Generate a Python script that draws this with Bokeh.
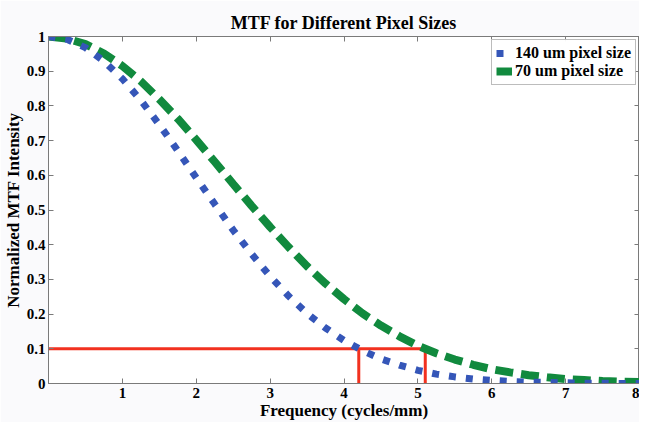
from bokeh.plotting import figure
from bokeh.models import LinearAxis, FixedTicker, Range1d, Legend, LegendItem, ColumnDataSource
from bokeh.embed import file_html
from bokeh.resources import INLINE

# Data
freq = [0, 0.25, 0.5, 0.75, 1, 1.25, 1.5, 1.75, 2, 2.25, 2.5, 2.75, 3, 3.25, 3.5, 3.75,
        4, 4.25, 4.5, 4.75, 5, 5.25, 5.5, 5.75, 6, 6.25, 6.5, 6.75, 7, 7.25, 7.5, 7.75, 8]
mtf_140 = [1.000, 0.992, 0.968, 0.929, 0.878, 0.816, 0.746, 0.671, 0.593, 0.517, 0.442, 0.373,
           0.309, 0.252, 0.202, 0.160, 0.124, 0.095, 0.071, 0.053, 0.038, 0.027, 0.019, 0.013,
           0.009, 0.006, 0.004, 0.003, 0.002, 0.001, 0.001, 0.000, 0.000]
mtf_70 = [1.000, 0.994, 0.978, 0.951, 0.915, 0.871, 0.819, 0.763, 0.702, 0.639, 0.575, 0.512,
          0.451, 0.393, 0.338, 0.288, 0.243, 0.202, 0.167, 0.136, 0.109, 0.087, 0.069, 0.054,
          0.041, 0.032, 0.024, 0.018, 0.013, 0.010, 0.007, 0.005, 0.004]
threshold = 0.1
cutoff_140 = 4.2
cutoff_70 = 5.1
x_ticks = [1, 2, 3, 4, 5, 6, 7, 8]
y_ticks = [0, 0.1, 0.2, 0.3, 0.4, 0.5, 0.6, 0.7, 0.8, 0.9, 1]
y_tick_labels = {0: "0", 0.1: "0.1", 0.2: "0.2", 0.3: "0.3", 0.4: "0.4", 0.5: "0.5",
                 0.6: "0.6", 0.7: "0.7", 0.8: "0.8", 0.9: "0.9", 1: "1"}
series_labels = ["140 um pixel size", "70 um pixel size"]

FONT = "Liberation Serif"
BLUE = "#3556b8"
GREEN = "#118a3e"
RED = "#f2311f"
AXC = "#7a7a7a"

p = figure(width=639, height=422, x_range=Range1d(0, 8), y_range=Range1d(0, 1),
           output_backend="svg", toolbar_location=None,
           x_axis_location=None, y_axis_location=None,
           min_border_left=39, min_border_right=0, min_border_top=36, min_border_bottom=0)
p.background_fill_color = "white"
p.border_fill_color = "#fafafc"
p.outline_line_color = AXC
p.xgrid.visible = False
p.ygrid.visible = False

p.title.text = "MTF for Different Pixel Sizes"
p.title.align = "center"
p.title.text_font = FONT
p.title.text_font_size = "18px"
p.title.text_font_style = "bold"
p.title.text_color = "black"
p.title.standoff = 7

def style_axis(ax, labels=True):
    ax.axis_line_color = AXC
    ax.major_tick_line_color = AXC
    ax.major_tick_in = 5
    ax.major_tick_out = 0
    ax.minor_tick_line_color = None
    ax.major_label_text_font = FONT
    ax.major_label_text_font_style = "bold"
    ax.major_label_text_font_size = "15px"
    ax.major_label_text_color = "black"
    ax.axis_label_text_font = FONT
    ax.axis_label_text_font_style = "bold"
    ax.axis_label_text_font_size = "17px"
    ax.axis_label_text_color = "black"
    ax.major_label_standoff = 4
    ax.axis_label_standoff = 0
    if not labels:
        ax.major_label_standoff = 0

xb = LinearAxis(ticker=FixedTicker(ticks=x_ticks), axis_label="Frequency (cycles/mm)")
style_axis(xb)
xt = LinearAxis(ticker=FixedTicker(ticks=x_ticks))
style_axis(xt, labels=False)
xt.major_label_overrides = {t: "" for t in x_ticks}
yl = LinearAxis(ticker=FixedTicker(ticks=y_ticks), axis_label="Normalized MTF Intensity")
yl.major_label_overrides = y_tick_labels
style_axis(yl)
yl.axis_label_standoff = 1
yl.major_label_standoff = 3
yr = LinearAxis(ticker=FixedTicker(ticks=y_ticks))
style_axis(yr, labels=False)
yr.major_label_overrides = {t: "" for t in y_ticks}
p.add_layout(xb, "below")
p.add_layout(xt, "above")
p.add_layout(yl, "left")
p.add_layout(yr, "right")

src = ColumnDataSource(dict(f=freq, a=mtf_140, b=mtf_70))

# red threshold lines
p.line([0, cutoff_70], [threshold, threshold], line_color=RED, line_width=3)
p.line([cutoff_140, cutoff_140], [0, threshold], line_color=RED, line_width=3)
p.line([cutoff_70, cutoff_70], [0, threshold], line_color=RED, line_width=3)

r70 = p.line("f", "b", source=src, line_color=GREEN, line_width=8, line_dash="18 8")
r140 = p.line("f", "a", source=src, line_color=BLUE, line_width=7, line_dash="7 10")

legend = Legend(items=[LegendItem(label=series_labels[0], renderers=[r140]),
                       LegendItem(label=series_labels[1], renderers=[r70])],
                location="top_right")
legend.label_text_font = FONT
legend.label_text_font_style = "bold"
legend.label_text_font_size = "16px"
legend.label_text_color = "black"
legend.border_line_color = AXC
legend.glyph_width = 16
legend.glyph_height = 14
legend.label_standoff = 3
legend.spacing = 0
legend.padding = 4
legend.margin = 3
legend.label_height = 17
p.add_layout(legend)

open("out.html", "w").write(file_html(p, INLINE))
